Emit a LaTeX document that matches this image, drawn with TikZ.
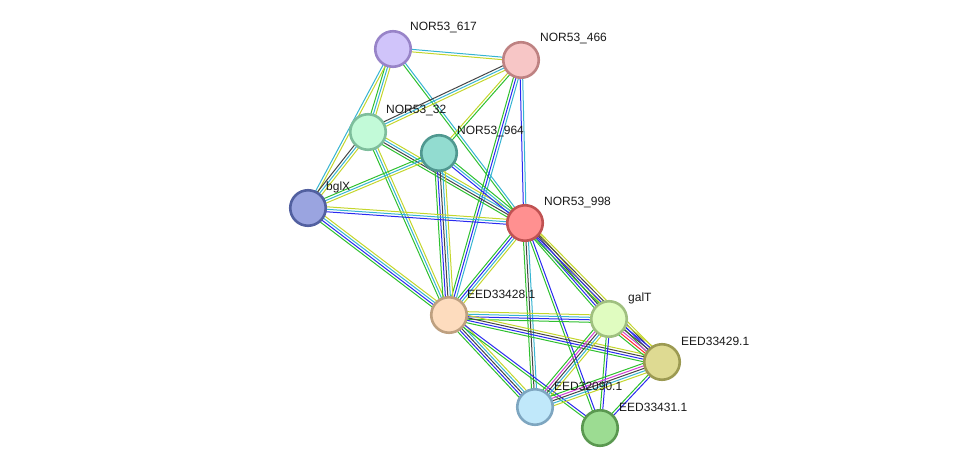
\documentclass[tikz,border=0pt]{standalone}
\usepackage{fontspec}
\setmainfont{Liberation Sans}
\usetikzlibrary{calc,backgrounds}
\definecolor{tm}{HTML}{C4D62C}
\definecolor{db}{HTML}{36B4D2}
\definecolor{ex}{HTML}{D23ED2}
\definecolor{co}{HTML}{444444}
\definecolor{nb}{HTML}{2EC02E}
\definecolor{fu}{HTML}{FF2A2A}
\definecolor{cc}{HTML}{2A2AF0}
\tikzset{
  prot/.style={circle, minimum size=35.5pt, inner sep=0pt, line width=2.6pt},
  lab/.style={anchor=west, font=\fontsize{12}{12}\selectfont, inner sep=0pt, text=black!90},
  eline/.style={line width=1pt}
}
\newcommand\medge[4]{%
  \foreach \c [count=\i] in {#4} {%
    \pgfmathsetmacro\o{(\i-(#3+1)/2)*2.5}%
    \draw[eline,\c] ($(#1)!\o pt!90:(#2)$) -- ($(#2)!\o pt!-90:(#1)$);
  }%
}
\begin{document}
\begin{tikzpicture}[x=1pt,y=-1pt]
\useasboundingbox (0,0) rectangle (975,474);
\node[prot, fill={rgb,255:red,208;green,196;blue,250}, draw={rgb,255:red,152;green,132;blue,200}] (n617) at (393,49) {};
\node[prot, fill={rgb,255:red,247;green,198;blue,198}, draw={rgb,255:red,190;green,130;blue,130}] (n466) at (521,60) {};
\node[prot, fill={rgb,255:red,194;green,250;blue,216}, draw={rgb,255:red,126;green,190;blue,156}] (n32) at (368,132) {};
\node[prot, fill={rgb,255:red,146;green,220;blue,208}, draw={rgb,255:red,80;green,152;blue,144}] (n964) at (439,153) {};
\node[prot, fill={rgb,255:red,154;green,164;blue,224}, draw={rgb,255:red,82;green,96;blue,160}] (bglx) at (308,208) {};
\node[prot, fill={rgb,255:red,255;green,144;blue,144}, draw={rgb,255:red,192;green,82;blue,82}] (n998) at (525,223) {};
\node[prot, fill={rgb,255:red,253;green,220;blue,190}, draw={rgb,255:red,190;green,160;blue,128}] (e28) at (449,315) {};
\node[prot, fill={rgb,255:red,224;green,252;blue,192}, draw={rgb,255:red,160;green,192;blue,128}] (galt) at (609,319) {};
\node[prot, fill={rgb,255:red,222;green,218;blue,146}, draw={rgb,255:red,156;green,154;blue,82}] (e29) at (662,362) {};
\node[prot, fill={rgb,255:red,192;green,232;blue,250}, draw={rgb,255:red,126;green,166;blue,192}] (e90) at (535,407) {};
\node[prot, fill={rgb,255:red,156;green,220;blue,146}, draw={rgb,255:red,90;green,152;blue,80}] (e31) at (600,428) {};
\begin{scope}[on background layer]
\medge{n617}{n466}{2}{tm,db}
\medge{n617}{n32}{3}{nb,db,tm}
\medge{n617}{bglx}{2}{db,tm}
\medge{n617}{n998}{2}{nb,db}
\medge{n466}{n32}{3}{co,db,tm}
\medge{n466}{n964}{2}{tm,nb}
\medge{n466}{n998}{2}{cc,db}
\medge{n466}{e28}{3}{nb,cc,db}
\medge{n32}{bglx}{3}{co,db,tm}
\medge{n32}{n998}{4}{nb,co,db,tm}
\medge{n32}{e28}{3}{nb,db,tm}
\medge{n964}{bglx}{3}{nb,db,tm}
\medge{n964}{n998}{3}{cc,db,nb}
\medge{n964}{e28}{5}{nb,cc,co,db,tm}
\medge{bglx}{n998}{3}{cc,db,tm}
\medge{bglx}{e28}{4}{nb,cc,db,tm}
\medge{n998}{e28}{4}{nb,cc,db,tm}
\medge{n998}{galt}{4}{nb,cc,co,tm}
\medge{n998}{e29}{4}{nb,cc,co,tm}
\medge{n998}{e90}{3}{nb,co,db}
\medge{n998}{e31}{2}{nb,cc}
\medge{e28}{galt}{4}{nb,cc,db,tm}
\medge{e28}{e29}{4}{nb,cc,co,tm}
\medge{e28}{e90}{5}{nb,cc,co,db,tm}
\medge{e28}{e31}{2}{nb,cc}
\medge{galt}{e29}{6}{nb,fu,ex,co,cc,tm}
\medge{galt}{e90}{5}{nb,ex,co,db,tm}
\medge{galt}{e31}{2}{nb,cc}
\medge{e29}{e90}{5}{nb,ex,co,db,tm}
\medge{e29}{e31}{2}{nb,cc}
\end{scope}
\node[lab] (l617) at ($(n617)+(17,-21)$) {NOR53\_617};
\node[lab] (l466) at ($(n466)+(19,-21)$) {NOR53\_466};
\node[lab] (l32) at ($(n32)+(18,-21)$) {NOR53\_32};
\node[lab] (l964) at ($(n964)+(18,-21)$) {NOR53\_964};
\node[lab] (lbglx) at ($(bglx)+(18,-21)$) {bglX};
\node[lab] (l998) at ($(n998)+(19,-21)$) {NOR53\_998};
\node[lab] (l28) at ($(e28)+(18,-21)$) {EED33428.1};
\node[lab] (lgalt) at ($(galt)+(19,-21)$) {galT};
\node[lab] (l29) at ($(e29)+(19,-21)$) {EED33429.1};
\node[lab] (l90) at ($(e90)+(19,-21)$) {EED32090.1};
\node[lab] (l31) at ($(e31)+(19,-21)$) {EED33431.1};
\end{tikzpicture}
\end{document}
